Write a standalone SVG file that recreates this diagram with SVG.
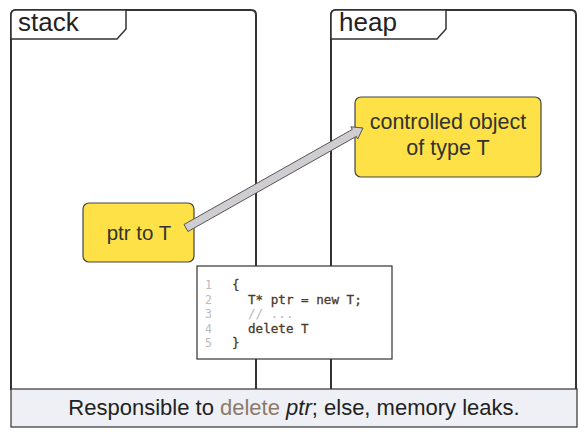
<svg xmlns="http://www.w3.org/2000/svg" width="588" height="437" viewBox="0 0 588 437">
<defs>
<style>
.frame{fill:none;stroke:#333;stroke-width:2}
.tab{fill:#fff;stroke:#333;stroke-width:1.5}
.tabtxt{font-family:"Liberation Sans",Arial,sans-serif;font-size:26px;fill:#222}
.node{fill:#fde146;stroke:#444;stroke-width:1.2}
.ntxt{font-family:"Liberation Sans",Arial,sans-serif;font-size:21.5px;fill:#333;text-anchor:middle}
.code{font-family:"DejaVu Sans Mono","Liberation Mono",monospace;font-size:12.6px;fill:#4a3a28;stroke:#4a3a28;stroke-width:0.3}
.ln{font-family:"DejaVu Sans Mono","Liberation Mono",monospace;font-size:11.5px;fill:#bbb}
</style>
</defs>
<rect width="588" height="437" fill="#fff"/>
<g id="stack">
<path class="frame" d="M11,390 V15 Q11,10 16,10 H251 Q256,10 256,15 V390"/>
<path class="tab" d="M11,39 V15 Q11,10 16,10 H126 V29 L117,39 Z"/>
<text class="tabtxt" x="18" y="31">stack</text>
</g>
<g id="heap">
<path class="frame" d="M331,390 V15 Q331,10 336,10 H571 Q576,10 576,15 V390"/>
<path class="tab" d="M331,39 V15 Q331,10 336,10 H446 V29 L437,39 Z"/>
<text class="tabtxt" x="339" y="31">heap</text>
</g>
<g id="ptr">
<rect class="node" x="83" y="203" width="111" height="59" rx="6"/>
<text class="ntxt" x="139" y="240" style="font-size:20.5px">ptr to T</text>
</g>
<g id="obj">
<rect class="node" x="355" y="97" width="186" height="80" rx="6"/>
<text class="ntxt" x="448" y="129">controlled object</text>
<text class="ntxt" x="448" y="155">of type T</text>
</g>
<g id="connectors">
<path d="M184,224.5 L352.3,129.4 L350.9,126.8 L363,128 L357.7,139 L356.3,136.4 L188,231.5 Z" fill="#cfcdd2" stroke="#555" stroke-width="1" stroke-linejoin="miter"/>
</g>
<g id="codebox">
<rect x="197" y="266" width="195" height="93" fill="#fff" stroke="#333" stroke-width="1.2"/>
<text class="ln" x="205" y="289">1</text>
<text class="ln" x="205" y="303.5">2</text>
<text class="ln" x="205" y="318">3</text>
<text class="ln" x="205" y="332.5">4</text>
<text class="ln" x="205" y="347">5</text>
<text class="code" x="232" y="289">{</text>
<text class="code" x="248" y="303.5">T* ptr = new T;</text>
<text class="code" x="248" y="318" style="fill:#b8b8b8;stroke:none">// ...</text>
<text class="code" x="248" y="332.5">delete T</text>
<text class="code" x="232" y="347">}</text>
</g>
<g id="caption">
<rect x="11" y="389" width="566" height="38" fill="#eef0f5" stroke="#333" stroke-width="1.2"/>
<text x="294" y="415" font-family="'Liberation Sans',Arial,sans-serif" font-size="22" fill="#222" text-anchor="middle">Responsible to <tspan fill="#8b7b6b">delete</tspan> <tspan font-style="italic">ptr</tspan>; else, memory leaks.</text>
</g>
</svg>
